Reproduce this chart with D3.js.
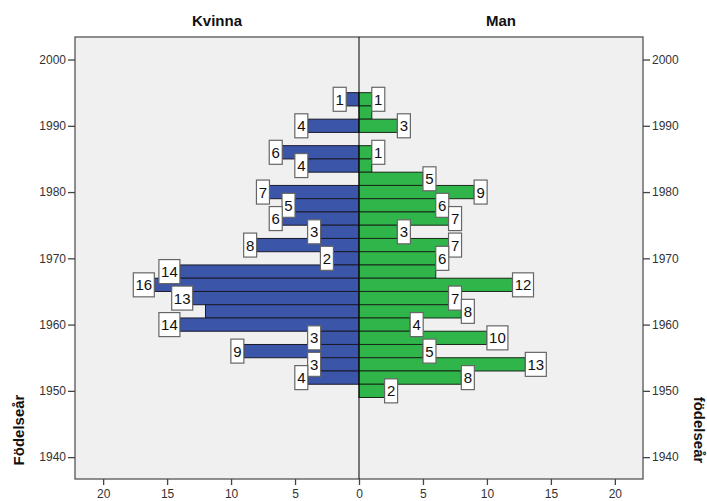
<!DOCTYPE html>
<html>
<head>
<meta charset="utf-8">
<script src="https://cdn.jsdelivr.net/npm/d3@7"></script>
<style>
  body { margin: 0; background: #fff; }
  text { font-family: Arial, "Liberation Sans", sans-serif; }
</style>
</head>
<body>
<div id="chart"></div>
<script>
// födelseår, 2-årsklasser (mittpunkt)
const years = [1994, 1992, 1990, 1988, 1986, 1984, 1982, 1980, 1978, 1976, 1974, 1972,
               1970, 1968, 1966, 1964, 1962, 1960, 1958, 1956, 1954, 1952, 1950];
const kvinna = [1, 0, 4, 0, 6, 4, 0, 7, 5, 6, 3, 8,
                2, 14, 16, 13, 12, 14, 3, 9, 3, 4, 0];
const man = [1, 1, 3, 0, 1, 1, 5, 9, 6, 7, 3, 7,
             6, 6, 12, 7, 8, 4, 10, 5, 13, 8, 2];
const yearTicks = [1940, 1950, 1960, 1970, 1980, 1990, 2000];
const countTicks = [0, 5, 10, 15, 20];
const binWidth = 2;

const width = 707, height = 501;
const plot = { left: 75, right: 643, top: 37, bottom: 479 };
const mid = 359;

const svg = d3.select('#chart').append('svg')
  .attr('width', width).attr('height', height);

const y = d3.scaleLinear().domain([1936.7, 2003.4]).range([plot.bottom, plot.top]);
const xL = d3.scaleLinear().domain([0, 22.2]).range([mid, plot.left]);
const xR = d3.scaleLinear().domain([0, 22.2]).range([mid, plot.right]);

svg.append('rect')
  .attr('x', plot.left).attr('y', plot.top)
  .attr('width', plot.right - plot.left).attr('height', plot.bottom - plot.top)
  .attr('fill', '#f0f0f0').attr('stroke', '#555').attr('stroke-width', 1.3);

const data = years.map((yr, i) => ({ yr, f: kvinna[i], m: man[i] }));

// staplar
svg.append('g').selectAll('rect')
  .data(data.filter(d => d.f > 0)).join('rect')
  .attr('x', d => xL(d.f)).attr('width', d => xL(0) - xL(d.f))
  .attr('y', d => y(d.yr + binWidth / 2))
  .attr('height', d => y(d.yr - binWidth / 2) - y(d.yr + binWidth / 2))
  .attr('fill', '#3b55a9').attr('stroke', '#1a1a2a').attr('stroke-width', 1);

svg.append('g').selectAll('rect')
  .data(data.filter(d => d.m > 0)).join('rect')
  .attr('x', xR(0)).attr('width', d => xR(d.m) - xR(0))
  .attr('y', d => y(d.yr + binWidth / 2))
  .attr('height', d => y(d.yr - binWidth / 2) - y(d.yr + binWidth / 2))
  .attr('fill', '#2fb54a').attr('stroke', '#1a2a1a').attr('stroke-width', 1);

svg.append('line')
  .attr('x1', mid).attr('x2', mid).attr('y1', plot.top).attr('y2', plot.bottom)
  .attr('stroke', '#000').attr('stroke-width', 1);

// etiketter (döljs om de överlappar en tidigare etikett, som i SPSS)
const placed = [];
function overlaps(b) {
  return placed.some(p => b.x0 < p.x1 - 1 && b.x1 > p.x0 + 1 && b.y0 < p.y1 - 1 && b.y1 > p.y0 + 1);
}
const labels = svg.append('g');
function addLabel(v, yr, side) {
  if (v <= 0) return;
  const w = String(v).length === 1 ? 13 : 21;
  const h = 24;
  const cy = y(yr);
  const x0 = side === 'L' ? xL(v) - w : xR(v);
  const b = { x0, x1: x0 + w, y0: cy - h / 2, y1: cy + h / 2 };
  if (overlaps(b)) return;
  placed.push(b);
  labels.append('rect')
    .attr('x', b.x0).attr('y', b.y0).attr('width', w).attr('height', h)
    .attr('fill', '#fff').attr('stroke', '#666').attr('stroke-width', 1.2);
  labels.append('text')
    .attr('x', b.x0 + w / 2).attr('y', cy + 5.5)
    .attr('text-anchor', 'middle').attr('font-size', 15).attr('fill', '#111')
    .text(v);
}
data.forEach(d => addLabel(d.f, d.yr, 'L'));
placed.length = 0;
data.forEach(d => addLabel(d.m, d.yr, 'R'));

// axlar
const axisStyle = g => {
  g.selectAll('path').remove();
  g.selectAll('line').attr('stroke', '#444').attr('stroke-width', 1.3);
  g.selectAll('text').attr('fill', '#333').attr('font-size', 12)
    .attr('font-family', 'Arial, "Liberation Sans", sans-serif');
};
svg.append('g').attr('transform', `translate(${plot.left},0)`)
  .call(d3.axisLeft(y).tickValues(yearTicks).tickFormat(d3.format('d')).tickSize(7).tickPadding(2))
  .call(axisStyle);
svg.append('g').attr('transform', `translate(${plot.right},0)`)
  .call(d3.axisRight(y).tickValues(yearTicks).tickFormat(d3.format('d')).tickSize(7).tickPadding(2))
  .call(axisStyle);
svg.append('g').attr('transform', `translate(0,${plot.bottom})`)
  .call(d3.axisBottom(xL).tickValues(countTicks).tickSize(6).tickPadding(4))
  .call(axisStyle);
svg.append('g').attr('transform', `translate(0,${plot.bottom})`)
  .call(d3.axisBottom(xR).tickValues(countTicks.filter(t => t > 0)).tickSize(6).tickPadding(4))
  .call(axisStyle);

// rubriker
svg.append('text').attr('x', (plot.left + mid) / 2).attr('y', 26)
  .attr('text-anchor', 'middle').attr('font-size', 15).attr('font-weight', 'bold')
  .attr('fill', '#111').text('Kvinna');
svg.append('text').attr('x', (mid + plot.right) / 2).attr('y', 26)
  .attr('text-anchor', 'middle').attr('font-size', 15).attr('font-weight', 'bold')
  .attr('fill', '#111').text('Man');

svg.append('text').attr('transform', 'translate(24,430) rotate(-90)')
  .attr('text-anchor', 'middle').attr('font-size', 15).attr('font-weight', 'bold')
  .attr('fill', '#111').text('Födelseår');
svg.append('text').attr('transform', 'translate(694,430) rotate(90)')
  .attr('text-anchor', 'middle').attr('font-size', 15).attr('font-weight', 'bold')
  .attr('fill', '#111').text('födelseår');
</script>
</body>
</html>
